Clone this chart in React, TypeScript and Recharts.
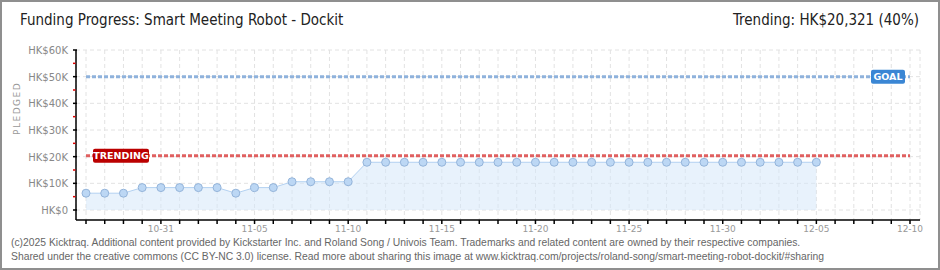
import { ComposedChart, Area, XAxis, YAxis, CartesianGrid, ReferenceLine } from 'recharts';

// Days shown on the x axis (10-27 .. 12-10)
const dates = [
    '10-27', '10-28', '10-29', '10-30', '10-31', '11-01', '11-02', '11-03', '11-04', '11-05',
    '11-06', '11-07', '11-08', '11-09', '11-10', '11-11', '11-12', '11-13', '11-14', '11-15',
    '11-16', '11-17', '11-18', '11-19', '11-20', '11-21', '11-22', '11-23', '11-24', '11-25',
    '11-26', '11-27', '11-28', '11-29', '11-30', '12-01', '12-02', '12-03', '12-04', '12-05',
    '12-06', '12-07', '12-08', '12-09', '12-10',
];

// Pledged totals (HK$) per day
const pledged = [
    6300, 6300, 6300, 8400, 8400, 8400, 8400, 8400, 6300, 8400,
    8400, 10600, 10600, 10600, 10600, 17900, 17900, 17900, 17900, 17900,
    17900, 17900, 17900, 17900, 17900, 17900, 17900, 17900, 17900, 17900,
    17900, 17900, 17900, 17900, 17900, 17900, 17900, 17900, 17900, 17900,
];

const xTickLabels = ['10-31', '11-05', '11-10', '11-15', '11-20', '11-25', '11-30', '12-05', '12-10'];
const yTicks = [0, 5000, 10000, 15000, 20000, 25000, 30000, 35000, 40000, 45000, 50000, 55000, 60000];
const yMajorTicks = [0, 10000, 20000, 30000, 40000, 50000, 60000];

const goal = 50000;
const trending = 20321;

const data = dates.map((d, i) => ({ date: d, pledged: pledged[i] }));
const firstDay = dates[0];
const lastDay = dates[dates.length - 1];

const headFont = "'DejaVu Sans Condensed', 'DejaVu Sans', sans-serif";

const YTick = (props: any) => {
    const { x, y, payload } = props;
    const major = yMajorTicks.includes(payload.value);
    return (
        <g>
            <line x1={x + 5} x2={major ? x + 9 : x + 7.5} y1={y} y2={y} stroke={major ? '#000' : '#e00000'} strokeWidth={1.5} />
            {major && (
                <text x={x} y={y} dy={4} textAnchor="end" fontSize={10} fontFamily="DejaVu Sans" fill="#888">
                    {payload.value === 0 ? 'HK$0' : `HK$${payload.value / 1000}K`}
                </text>
            )}
        </g>
    );
};

const TrendingLabel = (props: any) => {
    const { x, y } = props.viewBox;
    return (
        <g>
            <rect x={x + 7} y={y - 7} width={56} height={14} rx={2} fill="#bb0000" />
            <text x={x + 35} y={y} dy={3.5} textAnchor="middle" fontSize={9.5} fontWeight="bold" fontFamily="DejaVu Sans" fill="#fff">TRENDING</text>
        </g>
    );
};

const GoalLabel = (props: any) => {
    const { x, y, width } = props.viewBox;
    return (
        <g>
            <rect x={x + width - 39} y={y - 7} width={34} height={14} rx={2} fill="#3a86d4" />
            <text x={x + width - 22} y={y} dy={3.5} textAnchor="middle" fontSize={9.5} fontWeight="bold" fontFamily="DejaVu Sans" fill="#fff">GOAL</text>
        </g>
    );
};

export default function App() {
    return (
        <div style={{ position: 'absolute', left: 0, top: 0, width: 940, height: 270, background: '#fff', overflow: 'hidden' }}>
            <div style={{ position: 'absolute', left: 20, top: 11, fontFamily: headFont, fontStretch: 'condensed', fontSize: 15, color: '#222', whiteSpace: 'nowrap' }}>
                Funding Progress: Smart Meeting Robot - Dockit
            </div>
            <div style={{ position: 'absolute', right: 21, top: 11, fontFamily: headFont, fontStretch: 'condensed', fontSize: 15, color: '#222', whiteSpace: 'nowrap' }}>
                Trending: HK$20,321 (40%)
            </div>
            <ComposedChart width={940} height={270} data={data} margin={{ top: 50, right: 20, bottom: 30, left: 0 }}>
                <CartesianGrid stroke="#e2e2e2" strokeDasharray="4 3" horizontalValues={yMajorTicks} />
                <XAxis
                    dataKey="date"
                    interval={0}
                    height={20}
                    padding={{ left: 10, right: 10 }}
                    tickSize={4}
                    tickMargin={2}
                    axisLine={{ stroke: '#000', strokeWidth: 1.5 }}
                    tickLine={{ stroke: '#000', strokeWidth: 1.5 }}
                    tick={{ fontSize: 9, fontFamily: 'DejaVu Sans', fill: '#999' }}
                    tickFormatter={(d: string) => (xTickLabels.includes(d) ? d : '')}
                />
                <YAxis
                    width={76}
                    domain={[0, 60000]}
                    ticks={yTicks}
                    interval={0}
                    padding={{ bottom: 10 }}
                    tickSize={0}
                    tickMargin={8}
                    tickLine={false}
                    axisLine={{ stroke: '#000', strokeWidth: 1.5 }}
                    tick={<YTick />}
                    label={{ value: 'PLEDGED', angle: -90, position: 'insideLeft', offset: 17, fontSize: 9, fontFamily: 'DejaVu Sans', fill: '#999', letterSpacing: 1.5 }}
                />
                <Area
                    type="linear"
                    dataKey="pledged"
                    stroke="#b3d1f1"
                    strokeWidth={1}
                    fill="#d6e8fa"
                    fillOpacity={0.55}
                    dot={{ r: 4, fill: '#bcd7f4', stroke: '#94b4da', strokeWidth: 1, fillOpacity: 1 }}
                    activeDot={false}
                    isAnimationActive={false}
                />
                <ReferenceLine
                    segment={[{ x: firstDay, y: goal }, { x: lastDay, y: goal }]}
                    stroke="#8fb2dc"
                    strokeWidth={3}
                    strokeDasharray="4 2"
                    label={<GoalLabel />}
                />
                <ReferenceLine
                    segment={[{ x: firstDay, y: trending }, { x: lastDay, y: trending }]}
                    stroke="#e06060"
                    strokeWidth={3}
                    strokeDasharray="4 2"
                    label={<TrendingLabel />}
                />
            </ComposedChart>
            <div style={{ position: 'absolute', left: 11, top: 236, fontFamily: 'Liberation Sans', fontSize: 10.35, lineHeight: '14px', color: '#666', whiteSpace: 'nowrap' }}>
                (c)2025 Kicktraq. Additional content provided by Kickstarter Inc. and Roland Song / Univois Team. Trademarks and related content are owned by their respective companies.
                <br />
                Shared under the creative commons (CC BY-NC 3.0) license. Read more about sharing this image at www.kicktraq.com/projects/roland-song/smart-meeting-robot-dockit/#sharing
            </div>
            <div style={{ position: 'absolute', left: 0, top: 0, width: 940, height: 270, boxSizing: 'border-box', border: '2px solid #8f8f8f', pointerEvents: 'none' }} />
        </div>
    );
}
